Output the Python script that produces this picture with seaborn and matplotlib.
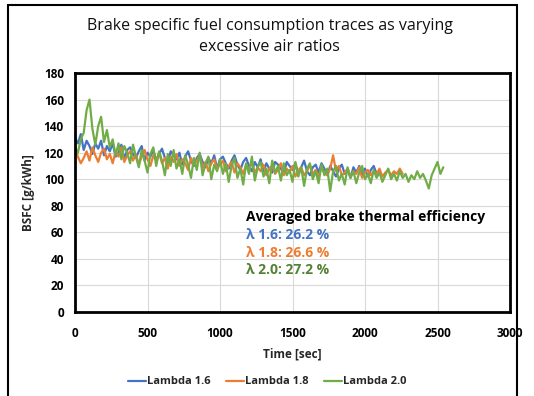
import numpy as np
import pandas as pd
import matplotlib
matplotlib.use("Agg")
import matplotlib.pyplot as plt
from matplotlib.patches import Rectangle
import seaborn as sns

# ---- data ----
step = 20  # seconds between samples
bsfc_16 = [131, 127, 134, 122, 129, 125, 119, 127, 123, 129,
           118, 125, 121, 127, 117, 120, 126, 115, 122, 124,
           119, 116, 121, 125, 114, 120, 117, 122, 114, 119,
           123, 116, 112, 121, 118, 115, 120, 111, 117, 121,
           114, 110, 116, 119, 113, 109, 116, 112, 118, 108,
           115, 117, 112, 108, 114, 118, 111, 107, 113, 116,
           110, 106, 113, 109, 115, 106, 112, 108, 105, 113,
           111, 108, 104, 113, 110, 107, 112, 104, 109, 114,
           106, 103, 109, 111, 105, 112, 108, 103, 110, 106,
           102, 108, 111, 104, 107, 101, 109, 105, 110, 103,
           108, 102, 107, 110, 104, 106]
bsfc_18 = [125, 117, 112, 116, 121, 114, 124, 118, 113, 120,
           123, 115, 119, 112, 121, 117, 124, 113, 118, 121,
           114, 119, 111, 117, 122, 115, 110, 118, 114, 120,
           112, 116, 108, 117, 113, 119, 110, 115, 112, 107,
           116, 111, 114, 118, 109, 113, 106, 112, 115, 108,
           111, 114, 106, 110, 113, 105, 112, 109, 104, 111,
           107, 113, 105, 109, 106, 111, 103, 108, 110, 104,
           107, 112, 103, 108, 105, 110, 102, 107, 109, 103,
           106, 111, 104, 107, 102, 109, 105, 103, 108, 118,
           106, 110, 103, 105, 108, 102, 106, 104, 109, 101,
           105, 107, 103, 106, 104, 108, 102, 105, 107, 103,
           106, 104, 108, 104]
bsfc_20 = [124, 120, 130, 135, 152, 160, 138, 126, 140, 147,
           128, 137, 124, 130, 118, 127, 115, 125, 120, 112,
           126, 117, 109, 122, 114, 105, 119, 124, 110, 121,
           114, 103, 119, 110, 122, 108, 115, 104, 118, 111,
           101, 116, 107, 120, 103, 112, 117, 100, 111, 106,
           115, 104, 112, 98, 110, 116, 101, 108, 96, 112,
           104, 117, 99, 109, 113, 102, 108, 97, 114, 105,
           110, 99, 112, 103, 107, 98, 113, 102, 109, 95,
           108, 112, 100, 106, 97, 111, 103, 108, 91, 106,
           110, 99, 104, 96, 109, 101, 106, 97, 105, 110,
           100, 104, 97, 107, 101, 105, 98, 103, 108, 100,
           104, 99, 106, 101, 104, 98, 103, 100, 106, 101,
           104, 99, 93, 103, 108, 113, 104, 109]
series_names = ["Lambda 1.6", "Lambda 1.8", "Lambda 2.0"]
colors = ["#4472C4", "#ED7D31", "#70AD47"]
eff_labels = ["λ 1.6: 26.2 %", "λ 1.8: 26.6 %", "λ 2.0: 27.2 %"]
eff_colors = ["#4472C4", "#ED7D31", "#548235"]
x_ticks = [0, 500, 1000, 1500, 2000, 2500, 3000]
y_ticks = [0, 20, 40, 60, 80, 100, 120, 140, 160, 180]

frames = []
for name, vals in zip(series_names, [bsfc_16, bsfc_18, bsfc_20]):
    frames.append(pd.DataFrame({"Time": np.arange(len(vals)) * step,
                                "BSFC": vals, "Series": name}))
df = pd.concat(frames, ignore_index=True)

sns.set_theme(style="white")
plt.rcParams["font.family"] = ["Open Sans", "DejaVu Sans"]

fig = plt.figure(figsize=(5.34, 3.96), dpi=100)
ax = fig.add_axes([75/534, 1-312/396, 435/534, 239/396])

sns.lineplot(data=df, x="Time", y="BSFC", hue="Series", palette=colors,
             linewidth=1.6, ax=ax, legend=True)

ax.set_xlim(0, 3000)
ax.set_ylim(0, 180)
ax.set_xticks(x_ticks)
ax.set_yticks(y_ticks)
ax.grid(True, color="#D9D9D9", linewidth=0.8)
ax.set_axisbelow(True)
for s in ax.spines.values():
    s.set_color("black")
    s.set_linewidth(2)
ax.tick_params(axis="both", length=0, labelsize=8.5, colors="black")
ax.tick_params(axis="x", pad=11)
ax.tick_params(axis="y", pad=8)
for lab in ax.get_xticklabels() + ax.get_yticklabels():
    lab.set_fontweight("bold")
ax.set_xlabel("Time [sec]", fontsize=8.5, fontweight="bold", labelpad=5)
ax.set_ylabel("BSFC [g/kWh]", fontsize=8.5, fontweight="bold", labelpad=6)

fig.text(0.505, 1-26/396, "Brake specific fuel consumption traces as varying",
         ha="center", va="center", fontsize=11.5, color="#111111")
fig.text(0.505, 1-47/396, "excessive air ratios",
         ha="center", va="center", fontsize=11.5, color="#111111")

ax.text(246/534, 1-217/396, "Averaged brake thermal efficiency",
        transform=fig.transFigure, ha="left", va="center",
        fontsize=10, fontweight="bold", color="black")
for i, (t, c) in enumerate(zip(eff_labels, eff_colors)):
    ax.text(246/534, 1-(235+17.7*i)/396, t, transform=fig.transFigure,
            ha="left", va="center", fontsize=10, fontweight="bold", color=c)

handles, labels = ax.get_legend_handles_labels()
ax.get_legend().remove()
leg = fig.legend(handles, labels, loc="center", bbox_to_anchor=(0.5, 1-382/396),
                 ncol=3, frameon=False, fontsize=8, handlelength=1.6,
                 handletextpad=0.1, columnspacing=1.4)
for t in leg.get_texts():
    t.set_fontweight("bold")

fig.patches.append(Rectangle((8/534, -0.1), (517-8)/534, 1.1-5/396,
                             transform=fig.transFigure, fill=False,
                             edgecolor="black", linewidth=1.5))

fig.savefig("out.png", dpi=100)
